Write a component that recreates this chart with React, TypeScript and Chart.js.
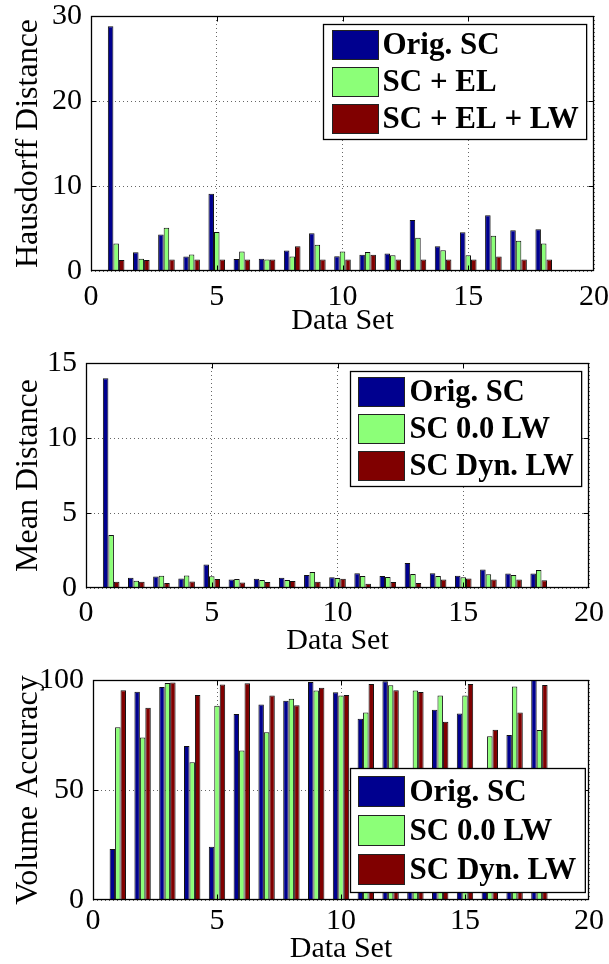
import React, { useEffect, useRef } from 'react';
import { Chart, registerables } from 'chart.js';

Chart.register(...registerables);

// ---------- data ----------
const dataSetIds = [1, 2, 3, 4, 5, 6, 7, 8, 9, 10, 11, 12, 13, 14, 15, 16, 17, 18];

const hausdorffOrig = [28.8, 2.2, 4.3, 1.7, 9.1, 1.4, 1.45, 2.4, 4.45, 1.75, 1.9, 2.05, 6.0, 2.9, 4.55, 6.55, 4.8, 4.9];
const hausdorffEL = [3.25, 1.45, 5.1, 1.95, 4.6, 2.3, 1.35, 1.7, 3.1, 2.3, 2.25, 1.85, 3.9, 2.45, 1.85, 4.15, 3.55, 3.25];
const hausdorffELLW = [1.3, 1.3, 1.35, 1.35, 1.35, 1.35, 1.35, 2.9, 1.35, 1.35, 1.9, 1.35, 1.35, 1.35, 1.35, 1.7, 1.35, 1.35];

const meanOrig = [13.98, 0.69, 0.76, 0.64, 1.56, 0.56, 0.62, 0.69, 0.87, 0.71, 0.98, 0.8, 1.67, 0.98, 0.82, 1.24, 0.96, 0.96];
const meanZeroLW = [3.53, 0.49, 0.82, 0.84, 0.78, 0.6, 0.53, 0.53, 1.07, 0.67, 0.8, 0.73, 0.93, 0.8, 0.71, 0.91, 0.87, 1.2];
const meanDynLW = [0.42, 0.42, 0.33, 0.44, 0.6, 0.36, 0.4, 0.47, 0.42, 0.62, 0.29, 0.4, 0.33, 0.56, 0.64, 0.56, 0.56, 0.51];

const volOrig = [23.2, 94.7, 96.8, 70, 24.2, 84.5, 88.9, 90.6, 99.1, 94.4, 82.4, 99.4, 45, 86.5, 84.8, 50, 75, 100];
const volZeroLW = [78.5, 73.9, 98.6, 62.6, 88.3, 68, 76.2, 91.5, 95.2, 92.9, 85.2, 97.6, 95.2, 93, 93, 74.4, 97, 77.3];
const volDynLW = [95.3, 87.4, 98.9, 93.2, 97.9, 98.5, 92.9, 88.5, 96.5, 93.2, 98.2, 95.3, 94.5, 81, 98.2, 77.4, 85.2, 97.7];

const labelsTop = ['Orig. SC', 'SC + EL', 'SC + EL + LW'];
const labelsLW = ['Orig. SC', 'SC 0.0 LW', 'SC Dyn. LW'];

const xTitle = 'Data Set';
const yTitles = ['Hausdorff Distance', 'Mean Distance', 'Volume Accuracy'];

// ---------- styling ----------
const COLORS = ['#00008f', '#8cff78', '#800000'];
const SERIF = '"Liberation Serif", "Times New Roman", serif';
const W = 609;

const panels = [
  {
    top: 0, height: 340, plotLeft: 91, plotTop: 16, plotBottom: 271, plotRight: 594,
    yMax: 30, yStep: 10, yTitle: yTitles[0], labels: labelsTop,
    series: [hausdorffOrig, hausdorffEL, hausdorffELLW],
    xTickPad: 8, xTitlePad: 4,
    legend: { corner: 'ne', marginX: 8, marginY: 8, padL: 9, padR: 8, gap: 4, swatchW: 46, swatchH: 29, pitch: 37, vpad: 6, fontSize: 31 },
  },
  {
    top: 340, height: 320, plotLeft: 86, plotTop: 23, plotBottom: 248, plotRight: 589,
    yMax: 15, yStep: 5, yTitle: yTitles[1], labels: labelsLW,
    series: [meanOrig, meanZeroLW, meanDynLW],
    xTickPad: 7, xTitlePad: 4,
    legend: { corner: 'ne', marginX: 8, marginY: 8, padL: 8, padR: 8, gap: 5, swatchW: 46, swatchH: 29, pitch: 37, vpad: 6, fontSize: 30.5 },
  },
  {
    top: 660, height: 304, plotLeft: 93, plotTop: 20, plotBottom: 240, plotRight: 589,
    yMax: 100, yStep: 50, yTitle: yTitles[2], labels: labelsLW,
    series: [volOrig, volZeroLW, volDynLW],
    xTickPad: 3, xTitlePad: 0,
    legend: { corner: 'se', marginX: 4, marginY: 8, padL: 8, padR: 9, gap: 5, swatchW: 46, swatchH: 30, pitch: 39, vpad: 8, fontSize: 31 },
  },
];

// ---------- plugins ----------
const framePlugin = {
  id: 'frame',
  afterDatasetsDraw(chart: any) {
    const { ctx, chartArea: a, scales } = chart;
    const L = Math.round(a.left) + 0.5;
    const R = Math.round(a.right) - 0.5;
    const T = Math.round(a.top) + 0.5;
    const B = Math.round(a.bottom) - 0.5;
    const len = 5;
    ctx.save();
    ctx.setLineDash([]);
    ctx.strokeStyle = '#000';
    ctx.lineWidth = 1;
    ctx.beginPath();
    scales.x.ticks.forEach((t: any) => {
      const px = Math.round(scales.x.getPixelForValue(t.value)) + 0.5;
      if (px <= L + 1 || px >= R - 1) return;
      ctx.moveTo(px, B); ctx.lineTo(px, B - len);
      ctx.moveTo(px, T); ctx.lineTo(px, T + len);
    });
    scales.y.ticks.forEach((t: any) => {
      const py = Math.round(scales.y.getPixelForValue(t.value)) + 0.5;
      if (py <= T + 1 || py >= B - 1) return;
      ctx.moveTo(L, py); ctx.lineTo(L + len, py);
      ctx.moveTo(R, py); ctx.lineTo(R - len, py);
    });
    ctx.stroke();
    ctx.lineWidth = 1.3;
    ctx.strokeRect(L, T, R - L, B - T);
    ctx.restore();
  },
};

const boxLegendPlugin = {
  id: 'boxLegend',
  afterDraw(chart: any, _args: any, o: any) {
    if (!o || !o.corner) return;
    const { ctx, chartArea: a } = chart;
    const items = chart.data.datasets;
    ctx.save();
    ctx.font = `bold ${o.fontSize}px ${SERIF}`;
    const textW = Math.max(...items.map((d: any) => ctx.measureText(d.label).width));
    const w = o.padL + o.swatchW + o.gap + textW + o.padR;
    const h = o.vpad * 2 + o.swatchH + o.pitch * (items.length - 1);
    const x = Math.round(a.right - o.marginX - w) + 0.5;
    const y = Math.round(o.corner === 'ne' ? a.top + o.marginY : a.bottom - o.marginY - h) + 0.5;
    ctx.fillStyle = '#fff';
    ctx.fillRect(x, y, w, h);
    ctx.strokeStyle = '#000';
    ctx.lineWidth = 1.3;
    ctx.setLineDash([]);
    ctx.strokeRect(x, y, w, h);
    items.forEach((d: any, i: number) => {
      const sx = x + o.padL;
      const sy = y + o.vpad + i * o.pitch;
      ctx.fillStyle = d.backgroundColor;
      ctx.fillRect(sx, sy, o.swatchW, o.swatchH);
      ctx.lineWidth = 1;
      ctx.strokeStyle = '#222';
      ctx.strokeRect(sx, sy, o.swatchW, o.swatchH);
      ctx.fillStyle = '#000';
      ctx.textBaseline = 'middle';
      ctx.textAlign = 'left';
      ctx.fillText(d.label, sx + o.swatchW + o.gap, sy + o.swatchH / 2 + 1);
    });
    ctx.restore();
  },
};

function makeConfig(p: any): any {
  const gridStyle = { color: 'rgba(0,0,0,0.6)', lineWidth: 1, drawTicks: false, offset: false };
  return {
    type: 'bar',
    data: {
      datasets: p.series.map((vals: number[], si: number) => ({
        label: p.labels[si],
        data: dataSetIds.map((id, i) => ({ x: id, y: vals[i] })),
        backgroundColor: COLORS[si],
        borderColor: '#111',
        borderWidth: 1,
        categoryPercentage: 0.66,
        barPercentage: 1,
      })),
    },
    options: {
      animation: false,
      responsive: false,
      maintainAspectRatio: false,
      devicePixelRatio: 1,
      layout: { padding: { top: p.plotTop, right: W - p.plotRight, left: 0, bottom: 0 } },
      plugins: {
        legend: { display: false },
        tooltip: { enabled: false },
        boxLegend: p.legend,
      },
      scales: {
        x: {
          type: 'linear',
          min: 0,
          max: 20,
          offset: false,
          grid: gridStyle,
          border: { display: false, dash: [1, 3] },
          ticks: {
            stepSize: 5,
            autoSkip: false,
            maxRotation: 0,
            padding: p.xTickPad,
            color: '#000',
            font: { family: SERIF, size: 30 },
          },
          title: {
            display: true,
            text: xTitle,
            color: '#000',
            font: { family: SERIF, size: 30, lineHeight: 1 },
            padding: { top: 0, bottom: p.xTitlePad },
          },
          afterFit(s: any) {
            s.height = p.height - p.plotBottom;
            s.paddingLeft = 0;
            s.paddingRight = 0;
          },
        },
        y: {
          type: 'linear',
          min: 0,
          max: p.yMax,
          grid: gridStyle,
          border: { display: false, dash: [1, 3] },
          ticks: {
            stepSize: p.yStep,
            padding: 9,
            color: '#000',
            font: { family: SERIF, size: 30 },
          },
          title: {
            display: true,
            text: p.yTitle,
            color: '#000',
            font: { family: SERIF, size: 32, lineHeight: 1 },
            padding: { top: 13, bottom: 0 },
          },
          afterFit(s: any) {
            s.width = p.plotLeft;
            s.paddingTop = 0;
            s.paddingBottom = 0;
          },
        },
      },
    },
    plugins: [framePlugin, boxLegendPlugin],
  };
}

export default function App() {
  const refs = [useRef<HTMLCanvasElement>(null), useRef<HTMLCanvasElement>(null), useRef<HTMLCanvasElement>(null)];

  useEffect(() => {
    const charts = panels.map((p, i) => new Chart(refs[i].current as HTMLCanvasElement, makeConfig(p)));
    return () => charts.forEach((c) => c.destroy());
  }, []);

  return (
    <div style={{ position: 'absolute', left: 0, top: 0, width: W, height: 964, background: '#fff' }}>
      {panels.map((p, i) => (
        <canvas
          key={i}
          ref={refs[i]}
          width={W}
          height={p.height}
          style={{ position: 'absolute', left: 0, top: p.top, width: W, height: p.height, display: 'block' }}
        />
      ))}
    </div>
  );
}
